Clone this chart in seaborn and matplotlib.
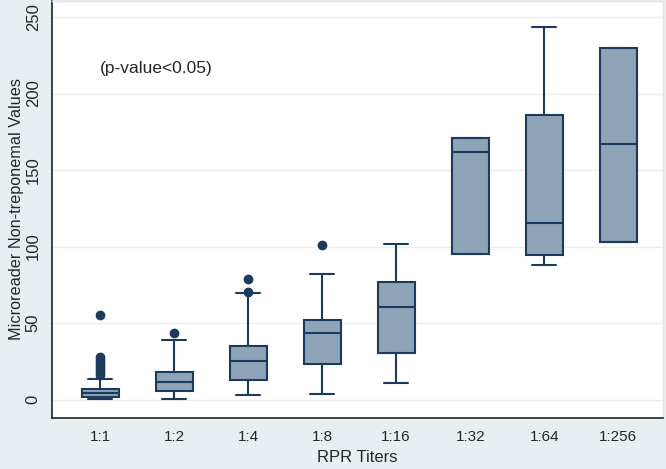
import matplotlib
matplotlib.use("Agg")
import matplotlib.pyplot as plt
import seaborn as sns

# values
titers = ["1:1", "1:2", "1:4", "1:8", "1:16", "1:32", "1:64", "1:256"]
q1 = [1.8, 5.5, 13.0, 22.9, 30.3, 95.3, 94.4, 103.2]
medians = [4.4, 11.6, 25.0, 43.6, 60.2, 161.6, 115.2, 166.7]
q3 = [7.0, 18.1, 35.0, 52.1, 77.0, 171.2, 186.0, 230.0]
whisker_low = [0.4, 0.4, 2.8, 3.7, 10.5, 95.3, 87.7, 103.2]
whisker_high = [13.7, 38.6, 69.8, 81.8, 101.6, 171.2, 243.7, 230.0]
outliers = [
    [16, 18, 20, 22, 24, 26, 28, 55],
    [43.6],
    [70.5, 78.5],
    [100.8],
    [], [], [], [],
]

bg = "#e8eff3"
fill = "#8fa3b7"
navy = "#1b3a5c"

sns.set_theme(style="whitegrid")
plt.rcParams['font.family'] = ['Liberation Sans', 'DejaVu Sans']

stats = []
for i, t in enumerate(titers):
    stats.append(dict(label=t, q1=q1[i], med=medians[i], q3=q3[i],
                      whislo=whisker_low[i], whishi=whisker_high[i],
                      fliers=outliers[i]))

fig = plt.figure(figsize=(6.66, 4.69), dpi=100, facecolor=bg)
ax = fig.add_axes([0.078, 0.109, 0.917, 0.889])
ax.set_facecolor("white")

ax.bxp(stats, positions=range(len(titers)), widths=0.5, patch_artist=True,
       boxprops=dict(facecolor=fill, edgecolor=navy, linewidth=1.5),
       medianprops=dict(color=navy, linewidth=1.5),
       whiskerprops=dict(color=navy, linewidth=1.5),
       capprops=dict(color=navy, linewidth=1.5),
       capwidths=0.33,
       flierprops=dict(marker="o", markerfacecolor=navy, markeredgecolor=navy,
                       markersize=6))

ax.set_xlim(-0.65, 7.6)
ax.set_ylim(-12, 260.5)
ax.set_yticks([0, 50, 100, 150, 200, 250])
ax.set_xticks(range(len(titers)))
ax.set_xticklabels(titers)
ax.tick_params(axis="y", labelrotation=90, length=6, width=1, color="#333333",
               labelsize=12, pad=2)
ax.tick_params(axis="x", length=0, labelsize=11, pad=9)
for lbl in ax.get_yticklabels():
    lbl.set_va("center")

ax.grid(axis="y", color="#ececec", linewidth=1)
ax.grid(axis="x", visible=False)
ax.set_axisbelow(True)

for side in ["left", "bottom"]:
    ax.spines[side].set_color("#222222")
    ax.spines[side].set_linewidth(1.2)
for side in ["top", "right"]:
    ax.spines[side].set_color("#e4e4e4")
    ax.spines[side].set_linewidth(1)

ax.set_xlabel("RPR Titers", fontsize=12, labelpad=4)
ax.set_ylabel("Microreader Non-treponemal Values", fontsize=11.7, labelpad=1)
ax.text(0.0, 216.5, "(p-value<0.05)", fontsize=12.5, ha="left", va="center")

fig.savefig("out.png", dpi=100, facecolor=bg)
